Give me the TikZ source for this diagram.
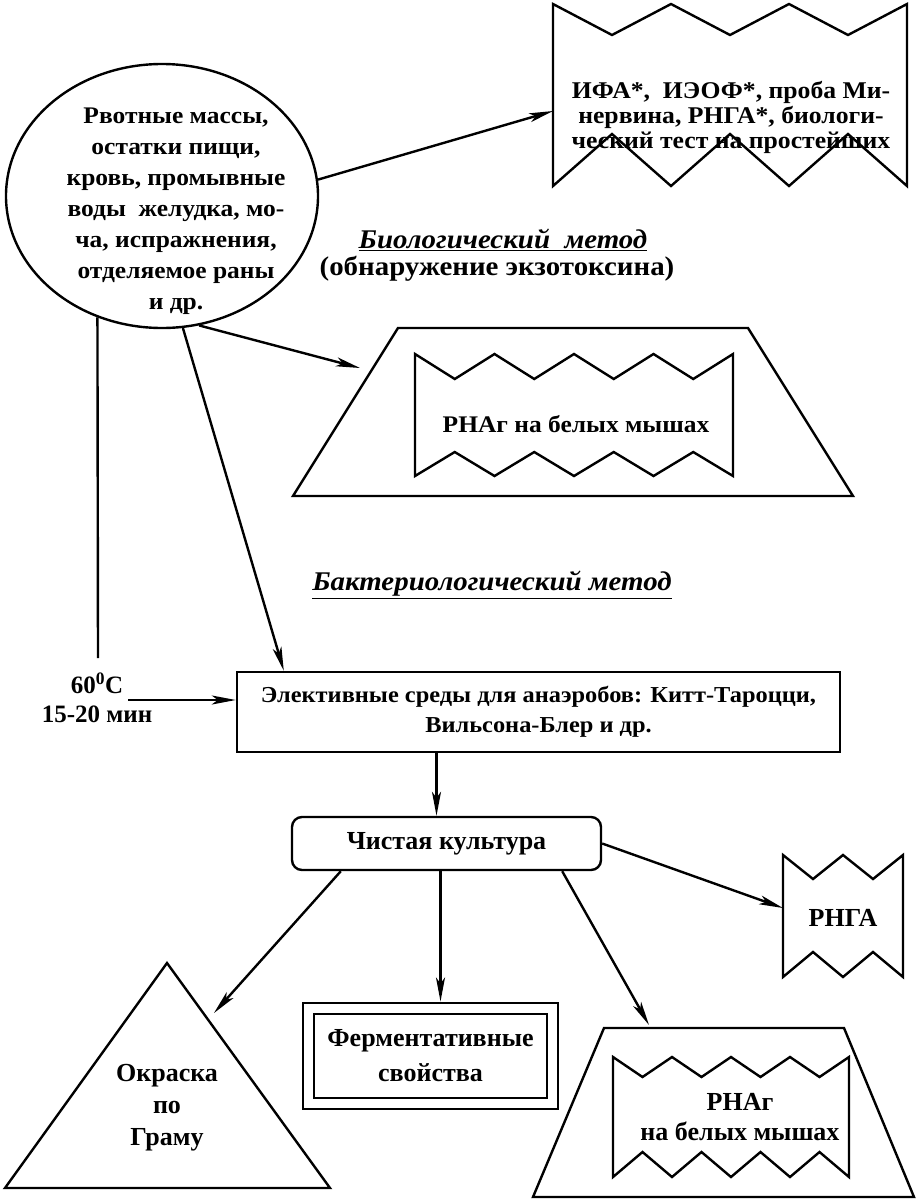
\documentclass[tikz,border=0pt]{standalone}
\usepackage{fontspec}
\setmainfont{Liberation Serif}
\newfontfamily\widefont{Liberation Serif}[FakeStretch=1.07]
\usetikzlibrary{arrows.meta,shapes.geometric,calc}

% box with zigzag top and bottom: x1 y1 x2 y2 teeth topdepth bottomdepth
\newcommand{\zigbox}[7]{%
\pgfmathsetmacro{\zw}{(#3-#1)/#5}
\draw (#1,#2) \foreach \i in {1,...,#5} { -- ({#1+(\i-0.5)*\zw},{#2+#6}) -- ({#1+\i*\zw},#2) }
  -- (#3,#4) \foreach \i in {1,...,#5} { -- ({#3-(\i-0.5)*\zw},{#4-#7}) -- ({#3-\i*\zw},#4) } -- cycle;
}

\tikzset{
  arr/.style={-{Stealth[length=24pt,width=9pt,inset=6pt]}},
  srctext/.style={align=center,font=\widefont\bfseries\fontsize{23.8}{31}\selectfont},
  toptext/.style={align=center,font=\widefont\bfseries\fontsize{24}{25}\selectfont},
  title/.style={align=center,font=\widefont\bfseries\fontsize{27}{28}\selectfont},
  midtext/.style={align=center,font=\widefont\bfseries\fontsize{22.8}{30}\selectfont},
  lowtext/.style={align=center,font=\bfseries\fontsize{26}{32}\selectfont},
}

\begin{document}
\begin{tikzpicture}[x=1pt,y=-1pt,line width=2.4pt]
\useasboundingbox (0,0) rectangle (916,1200);

% sample
\node[draw,ellipse,minimum width=312,minimum height=264] (src) at (162,196) {};
\node[srctext] (srctxt) at (176,211) {Рвотные массы,\\ остатки пищи,\\ кровь, промывные\\ воды\ \ желудка, мо-\\ ча, испражнения,\\ отделяемое раны\\ и др.};

% tests for toxin
\zigbox{553}{4}{907}{186}{3}{31}{52}
\node[toptext] (tests) at (731,117) {ИФА*,\ \ ИЭОФ*, проба Ми-\\ нервина, РНГА*,\ биологи-\\ ческий тест на простейших};
\coordinate (testsw) at (553,111);
\draw[arr] (src.6) -- (testsw);

% biological method
\node[title] (biotitle) at (503,240) {\underline{\itshape Биологический\ \ метод}};
\node[title] (biosub) at (497,269) {(обнаружение экзотоксина)};

\draw (398,328) -- (748,328) -- (853,496) -- (293,496) -- cycle;
\zigbox{415}{354}{733}{476}{4}{25}{24}
\node[midtext,font=\widefont\bfseries\fontsize{23.8}{30}\selectfont] (mice1) at (576,424) {РНАг на белых мышах};
\coordinate (trapw) at (360,368);
\draw[arr] (src.-74) -- (trapw);

% bacteriological method
\node[title] (bactitle) at (492,585) {\underline{\itshape Бактериологический метод}};

\node[draw,minimum width=603,minimum height=80,midtext] (elect) at (538.5,712) {Элективные среды для анаэробов: Китт-Тароцци,\\ Вильсона-Блер и др.};
\draw[arr] (src.-81) -- ($(elect.north west)+(48,0)$);

\coordinate (heat) at (98,658);
\draw (src.-118) -- (heat);
\node[lowtext,font=\bfseries\fontsize{25}{29}\selectfont] (heattxt) at (97,698) {60\textsuperscript{0}C\\ 15-20 мин};
\coordinate (heatr) at (128,700);
\draw[arr] (heatr) -- (heatr -| elect.west);

\node[draw,rounded corners=10,minimum width=309,minimum height=53,lowtext] (pure) at (446.5,843.5) {Чистая культура};
\draw[arr] ([xshift=-10pt]pure.north |- elect.south) -- ([xshift=-10pt]pure.north);

% Gram stain
\draw (167,963) -- (330,1188) -- (5,1188) -- cycle;
\node[lowtext] (gram) at (167,1108) {Окраска\\ по\\ Граму};
\coordinate (trin) at (214,1013);
\draw[arr] ([xshift=50pt]pure.south west) -- (trin);

% enzymes
\node[draw,double,double distance=9pt,minimum width=244,minimum height=95,outer sep=7pt,lowtext,font=\bfseries\fontsize{26}{35}\selectfont] (ferm) at (430.5,1056) {Ферментативные\\ свойства};
\draw[arr] ([xshift=-6pt]pure.south) -- ([xshift=-6pt]pure.south |- ferm.north);

% mice, second
\draw (604,1028) -- (844,1028) -- (914,1197) -- (533,1197) -- cycle;
\zigbox{613}{1057}{849}{1177}{4}{20}{25}
\node[lowtext,font=\bfseries\fontsize{26}{30}\selectfont] (mice2) at (740,1117) {РНАг\\ на белых мышах};
\coordinate (trapn) at (649,1025);
\draw[arr] ([xshift=-40pt]pure.south east) -- (trapn);

% RNGA
\zigbox{783}{855}{903}{977}{2}{24}{25}
\node[lowtext] (rnga) at (843,918) {РНГА};
\coordinate (rngaw) at (783,908);
\draw[arr] (pure.east) -- (rngaw);

\end{tikzpicture}
\end{document}
